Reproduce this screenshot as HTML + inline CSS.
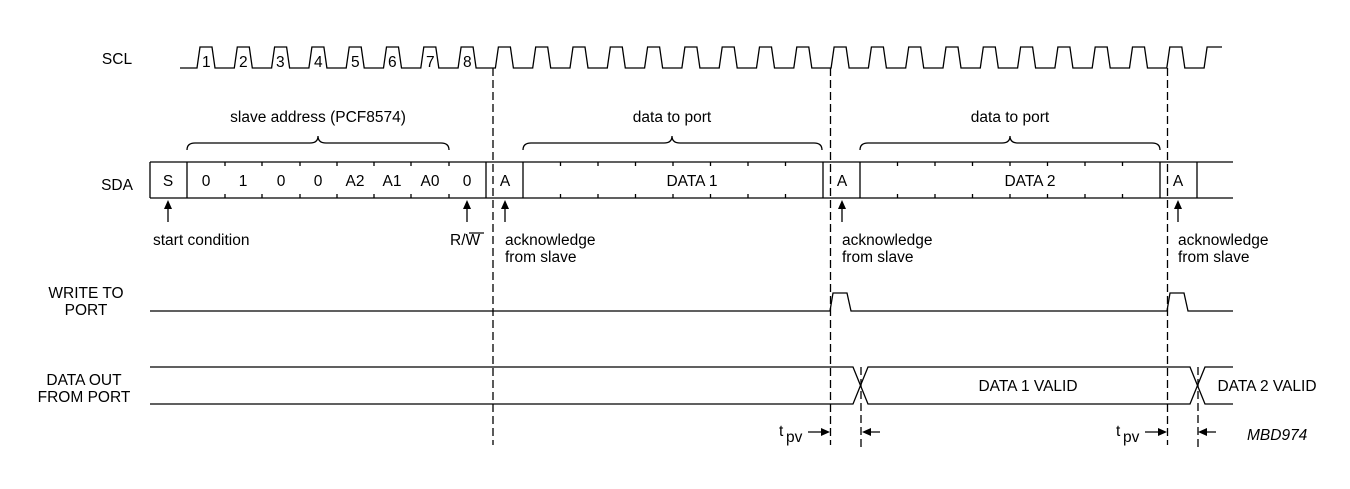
<!DOCTYPE html>
<html><head><meta charset="utf-8"><style>
html,body{margin:0;padding:0;background:#fff;}
svg{display:block;}
text{font-family:"Liberation Sans",Arial,sans-serif;font-size:15.5px;fill:#000;}
</style></head><body>
<svg width="1350" height="489" viewBox="0 0 1350 489" xmlns="http://www.w3.org/2000/svg">
<g fill="none" stroke="#000" stroke-width="1.3">
<path d="M180,68 H197 l3,-21 h12 l3,21 h19.3 l3,-21 h12 l3,21 h19.3 l3,-21 h12 l3,21 h19.3 l3,-21 h12 l3,21 h19.3 l3,-21 h12 l3,21 h19.3 l3,-21 h12 l3,21 h19.3 l3,-21 h12 l3,21 h19.3 l3,-21 h12 l3,21 h19.3 l3,-21 h12 l3,21 h19.3 l3,-21 h12 l3,21 h19.3 l3,-21 h12 l3,21 h19.3 l3,-21 h12 l3,21 h19.3 l3,-21 h12 l3,21 h19.3 l3,-21 h12 l3,21 h19.3 l3,-21 h12 l3,21 h19.3 l3,-21 h12 l3,21 h19.3 l3,-21 h12 l3,21 h19.3 l3,-21 h12 l3,21 h19.3 l3,-21 h12 l3,21 h19.3 l3,-21 h12 l3,21 h19.3 l3,-21 h12 l3,21 h19.3 l3,-21 h12 l3,21 h19.3 l3,-21 h12 l3,21 h19.3 l3,-21 h12 l3,21 h19.3 l3,-21 h12 l3,21 h19.3 l3,-21 h12 l3,21 h19.3 l3,-21 h12 l3,21 h19.3 l3,-21 H1222"/>
<g stroke-dasharray="8,4">
<path d="M493,68 V445 M830.5,68 V445 M1167.5,68 V445 M861,367 V447 M1198,367 V447"/>
</g>
<path d="M150,162 H1233 M150,198 H1233 M150,162 V198 M187,162 V198 M486,162 V198 M523,162 V198 M823,162 V198 M860,162 V198 M1160,162 V198 M1197,162 V198"/>
<path d="M225,162v4M262,162v4M300,162v4M337,162v4M374,162v4M411,162v4M449,162v4
M225,198v-4M262,198v-4M300,198v-4M337,198v-4M374,198v-4M411,198v-4M449,198v-4
M560.5,162v4M598,162v4M635.5,162v4M673,162v4M710.5,162v4M748,162v4M785.5,162v4
M560.5,198v-4M598,198v-4M635.5,198v-4M673,198v-4M710.5,198v-4M748,198v-4M785.5,198v-4
M897.5,162v4M935,162v4M972.5,162v4M1010,162v4M1047.5,162v4M1085,162v4M1122.5,162v4
M897.5,198v-4M935,198v-4M972.5,198v-4M1010,198v-4M1047.5,198v-4M1085,198v-4M1122.5,198v-4"/>
<path d="M187,150 q0,-7 8,-7 H310 q8,0 8,-7 q0,7 8,7 H441 q8,0 8,7"/>
<path d="M523,150 q0,-7 8,-7 H664 q8,0 8,-7 q0,7 8,7 H814 q8,0 8,7"/>
<path d="M860,150 q0,-7 8,-7 H1002 q8,0 8,-7 q0,7 8,7 H1152 q8,0 8,7"/>
<path d="M168,222V208M467,222V208M505,222V208M842,222V208M1178,222V208"/>
<path d="M150,311 H830 l3,-18 h14 l4,18 H1167 l3,-18 h14 l4,18 H1233"/>
<path d="M150,367 H853 L868,404 H1190 L1205,367 H1233"/>
<path d="M150,404 H853 L868,367 H1190 L1205,404 H1233"/>
<path d="M808,432 H824 M880,432 H867 M1145,432 H1161 M1216,432 H1204"/>
</g>
<g fill="#000">
<path d="M168,200 l-4,9 h8z M467,200 l-4,9 h8z M505,200 l-4,9 h8z M842,200 l-4,9 h8z M1178,200 l-4,9 h8z"/>
<path d="M830,432 l-9,-4 v8z M862,432 l9,-4 v8z M1167,432 l-9,-4 v8z M1198,432 l9,-4 v8z"/>
</g>
<g font-size="14">
<text x="202" y="67">1</text><text x="239" y="67">2</text><text x="276" y="67">3</text><text x="314" y="67">4</text>
<text x="351" y="67">5</text><text x="388" y="67">6</text><text x="426" y="67">7</text><text x="463" y="67">8</text>
</g>
<g text-anchor="middle">
<text x="117" y="64">SCL</text>
<text x="117" y="190">SDA</text>
<text x="86" y="298">WRITE TO</text>
<text x="86" y="315">PORT</text>
<text x="84" y="385">DATA OUT</text>
<text x="84" y="402">FROM PORT</text>
<text x="318" y="122">slave address (PCF8574)</text>
<text x="672" y="122">data to port</text>
<text x="1010" y="122">data to port</text>
<text x="168" y="186">S</text>
<text x="206" y="186">0</text><text x="243" y="186">1</text><text x="281" y="186">0</text><text x="318" y="186">0</text>
<text x="355" y="186">A2</text><text x="392" y="186">A1</text><text x="430" y="186">A0</text><text x="467" y="186">0</text>
<text x="505" y="186">A</text><text x="842" y="186">A</text><text x="1178" y="186">A</text>
<text x="692" y="186">DATA 1</text>
<text x="1030" y="186">DATA 2</text>
<text x="1028" y="391" font-size="16.5">DATA 1 VALID</text>
<text x="1267" y="391" font-size="16.5">DATA 2 VALID</text>
</g>
<text x="153" y="245">start condition</text>
<text x="450" y="245">R/W</text>
<path d="M469,233 H484" stroke="#000" stroke-width="1.2"/>
<text x="505" y="245">acknowledge</text><text x="505" y="262">from slave</text>
<text x="842" y="245">acknowledge</text><text x="842" y="262">from slave</text>
<text x="1178" y="245">acknowledge</text><text x="1178" y="262">from slave</text>
<text x="779" y="436">t</text><text x="786" y="442">pv</text>
<text x="1116" y="436">t</text><text x="1123" y="442">pv</text>
<text x="1247" y="440" font-size="10.5" font-style="italic">MBD974</text>
</svg>
</body></html>
